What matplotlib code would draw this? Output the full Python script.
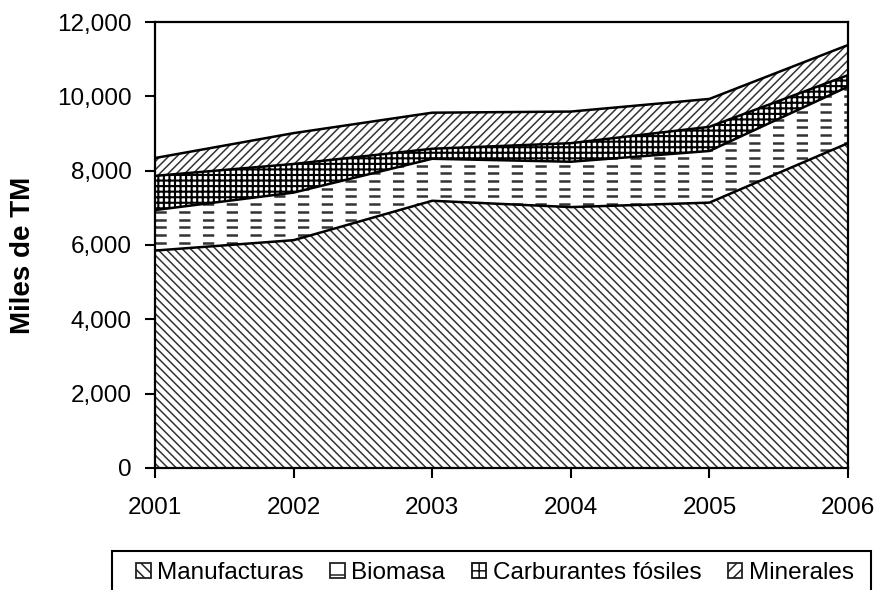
import matplotlib
matplotlib.use("Agg")
import matplotlib.pyplot as plt
import numpy as np
from matplotlib.patches import Rectangle, Patch
from matplotlib.ticker import FuncFormatter

years = [2001, 2002, 2003, 2004, 2005, 2006]
manufacturas = [5850, 6130, 7190, 7020, 7140, 8740]
biomasa = [1090, 1280, 1130, 1220, 1390, 1520]
carburantes = [920, 770, 270, 500, 650, 310]
minerales = [480, 830, 970, 850, 750, 810]
series_names = ["Manufacturas", "Biomasa", "Carburantes fósiles", "Minerales"]
y_ticks = [0, 2000, 4000, 6000, 8000, 10000, 12000]

plt.rcParams['font.family'] = ['Liberation Sans', 'DejaVu Sans']
plt.rcParams['hatch.linewidth'] = 1.1

FS = 17.5
W, H = 880, 590
fig = plt.figure(figsize=(W / 100, H / 100), dpi=100)
ax = fig.add_axes([155 / W, 1 - 468 / H, (848 - 155) / W, (468 - 22) / H])

x = np.array(years)
s0 = np.zeros(len(x))
s1 = s0 + np.array(manufacturas)
s2 = s1 + np.array(biomasa)
s3 = s2 + np.array(carburantes)
s4 = s3 + np.array(minerales)

# Manufacturas
ax.fill_between(x, s0, s1, facecolor='white', edgecolor='#333333', hatch='\\\\\\\\', linewidth=0, zorder=1)
# Biomasa: white with dashed horizontal strokes
pb = ax.fill_between(x, s1, s2, facecolor='white', edgecolor='none', linewidth=0, zorder=1)
clip_path = pb.get_paths()[0]
for yy in np.arange(60, 12000, 207):
    ln, = ax.plot([2001, 2006], [yy, yy], color='#333333', lw=1.8,
                  linestyle=(0, (4.5, 5)), zorder=1.5)
    ln.set_dash_capstyle('butt')
    ln.set_clip_path(clip_path, ax.transData)
# Carburantes
plt.rcParams['hatch.linewidth'] = 1.5
ax.fill_between(x, s2, s3, facecolor='white', edgecolor='#000000', hatch='+++', linewidth=0, zorder=1)
plt.rcParams['hatch.linewidth'] = 1.1
# Minerales
ax.fill_between(x, s3, s4, facecolor='white', edgecolor='#333333', hatch='////', linewidth=0, zorder=1)

for s in (s1, s2, s3, s4):
    ax.plot(x, s, color='black', lw=1.8, zorder=3)

ax.set_xlim(2001, 2006)
ax.set_ylim(0, 12000)
ax.set_xticks(years)
ax.set_yticks(y_ticks)
ax.yaxis.set_major_formatter(FuncFormatter(lambda v, p: f"{int(v):,}"))
ax.tick_params(direction='out', length=7, width=1.5, labelsize=FS)
ax.tick_params(axis='y', pad=10)
ax.tick_params(axis='x', pad=14)
for sp in ax.spines.values():
    sp.set_linewidth(1.6)
ax.set_ylabel("Miles de TM", fontsize=20, fontweight='bold')
ax.yaxis.set_label_coords(36 / W, 1 - 255 / H, transform=fig.transFigure)

# Legend
rect = Rectangle((112 / W, 1 - 600 / H), (871 - 112) / W, (600 - 551) / H,
                 transform=fig.transFigure, facecolor='white', edgecolor='black', lw=1.5)
fig.add_artist(rect)
handles = [
    Patch(facecolor='white', edgecolor='#222222', hatch='\\\\\\', lw=1.3),
    Patch(facecolor='white', edgecolor='#222222', hatch='-', lw=1.3),
    Patch(facecolor='white', edgecolor='#111111', hatch='++', lw=1.3),
    Patch(facecolor='white', edgecolor='#222222', hatch='///', lw=1.3),
]
fig.legend(handles, series_names, loc='center', bbox_to_anchor=(495 / W, 1 - 573 / H),
           ncol=4, frameon=False, fontsize=FS, handlelength=0.6, handleheight=0.6,
           handletextpad=0.25, columnspacing=1.1, borderaxespad=0)

fig.savefig("out.png", dpi=100)
